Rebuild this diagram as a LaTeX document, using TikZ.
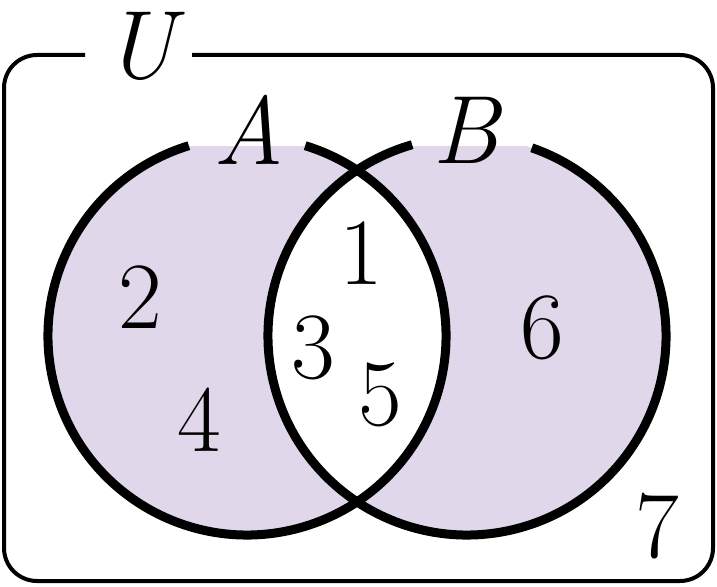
\documentclass[tikz,border=0pt]{standalone}
\usepackage{amsmath}
\usepackage[dvipsnames]{xcolor}
\usepackage{tikz}
\definecolor{venncol}{RGB}{224,215,235}
\tikzset{
    vennline/.style={line width=9pt},
    frame/.style={line width=4pt, rounded corners=33pt},
    big/.style={font=\fontsize{95}{95}\selectfont, inner sep=0pt},
    bigit/.style={big, font=\fontsize{97}{97}\selectfont\itshape}
}

\begin{document}
\begin{tikzpicture}[x=1pt,y=1pt]
    \useasboundingbox (0,0) rectangle (717,586);

    \coordinate (cA) at (247,250);
    \coordinate (cB) at (467,250);

    % shaded part: A or B, but not both
    \begin{scope}
        \clip (0,0) rectangle (717,439);
        \fill[venncol, even odd rule] (cA) circle (199) (cB) circle (199);
    \end{scope}

    \draw[frame] (192,531) -| (713,5) -| (4,531) -- (85,531);
    \draw[vennline] ([shift={(107:199)}]cA) arc[start angle=107, end angle=433, radius=199];
    \draw[vennline] ([shift={(106:199)}]cB) arc[start angle=106, end angle=431, radius=199];

    \node[bigit] (U) at (140,540){U};
    \node[bigit] (A) at (249,456){A};
    \node[bigit] (B) at (466,456){B};

    \node[big] (1) at (361,333){1};
    \node[big] (2) at (140,289){2};
    \node[big] (3) at (313,238){3};
    \node[big] (4) at (199,166){4};
    \node[big] (5) at (380,191){5};
    \node[big] (6) at (542,258){6};
    \node[big] (7) at (657,60){7};
\end{tikzpicture}
\end{document}
